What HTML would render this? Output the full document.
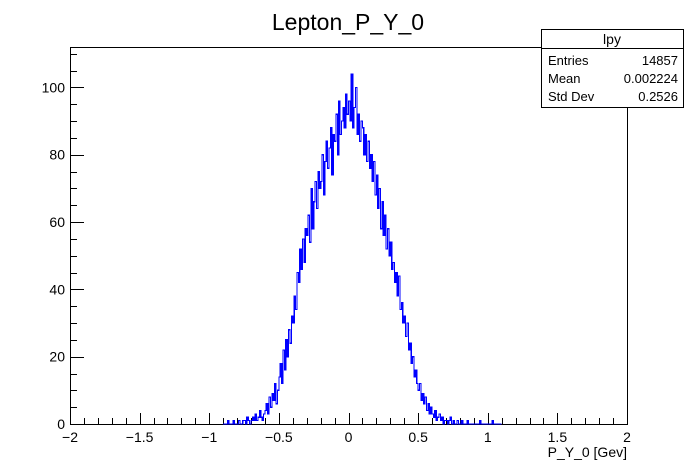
<!DOCTYPE html>
<html><head><meta charset="utf-8"><style>
body{margin:0;background:#fff;}
svg{display:block;font-family:"Liberation Sans",sans-serif;}
</style></head><body>
<svg id="c" width="696" height="472">
<text x="348" y="30" font-size="23" text-anchor="middle">Lepton_P_Y_0</text>
<rect x="70.5" y="47.5" width="557" height="377" fill="none" stroke="#000" stroke-width="1"/>
<g id="ticks" shape-rendering="crispEdges"></g>
<path id="hist" fill="none" stroke="#0000ff" stroke-width="1.2" shape-rendering="crispEdges"/>
<text x="627" y="457" font-size="14" text-anchor="end">P_Y_0 [Gev]</text>
<g>
<rect x="541.5" y="29.5" width="142" height="78" fill="#fff" stroke="#000"/>
<line x1="541.5" y1="48.5" x2="683.5" y2="48.5" stroke="#000"/>
<text x="612" y="44" font-size="14" text-anchor="middle">lpy</text>
<text x="548" y="65" font-size="13">Entries</text>
<text x="678" y="65" font-size="13" text-anchor="end">14857</text>
<text x="548" y="83" font-size="13">Mean</text>
<text x="678" y="83" font-size="13" text-anchor="end">0.002224</text>
<text x="548" y="101" font-size="13">Std Dev</text>
<text x="678" y="101" font-size="13" text-anchor="end">0.2526</text>
</g>
</svg>
<script>
const binStart = -0.9;
const binWidth = 0.01;
const counts = [
0,0,0,1,0,0,0,1,0,0,
0,1,0,0,1,1,0,2,1,0,
1,2,1,3,1,2,4,2,1,3,
4,6,3,8,5,9,7,12,6,10,
14,18,12,22,16,25,20,28,24,32,
30,38,34,45,42,52,46,55,48,58,
56,62,54,70,58,66,72,64,75,70,
72,80,68,78,84,76,82,88,74,86,
84,92,80,96,86,90,94,88,98,92,
96,90,104,88,94,100,86,92,84,90,
88,80,86,78,84,76,80,72,78,68,
74,64,70,58,66,56,62,52,58,50,
54,46,48,42,45,38,44,34,36,30,
32,26,30,22,24,18,20,14,16,12,
10,12,7,9,6,8,4,6,3,5,
3,2,4,1,2,3,1,2,0,1,
1,0,1,2,0,1,0,0,1,0,
0,1,0,0,0,1,0,0,0,0,
0,0,0,0,1,0,0,0,0,0,
0,0,0,1,0,0,0,0,0,0];
const xTicks = [-2,-1.5,-1,-0.5,0,0.5,1,1.5,2];
const xTickLabels = ["\u22122","\u22121.5","\u22121","\u22120.5","0","0.5","1","1.5","2"];
const yTicks = [0,20,40,60,80,100];
const yTickLabels = ["0","20","40","60","80","100"];

const X0=70,X1=627,Y0=424,Y1=47,xmin=-2,xmax=2,ymin=0,ymax=112;
const xs=v=>X0+(v-xmin)/(xmax-xmin)*(X1-X0);
const ys=v=>Y0-(v-ymin)/(ymax-ymin)*(Y0-Y1);
const NS="http://www.w3.org/2000/svg";
const g=document.getElementById('ticks');
function ln(x1,y1,x2,y2){const l=document.createElementNS(NS,'line');l.setAttribute('x1',x1);l.setAttribute('y1',y1);l.setAttribute('x2',x2);l.setAttribute('y2',y2);l.setAttribute('stroke','#000');g.appendChild(l);return l;}
function tx(x,y,s,a){const t=document.createElementNS(NS,'text');t.setAttribute('x',x);t.setAttribute('y',y);t.setAttribute('font-size','14');t.setAttribute('text-anchor',a);t.textContent=s;g.appendChild(t);return t;}
for(let v=-2;v<=2.0001;v+=0.1){const x=Math.round(xs(v))+0.5;const maj=Math.abs(v*2-Math.round(v*2))<1e-6;ln(x,Y0,x,Y0-(maj?11:6));}
xTicks.forEach((v,i)=>{const t=tx(xs(v),442,xTickLabels[i],'middle');

});
for(let v=0;v<=112;v+=5){const y=Math.round(ys(v))+0.5;const maj=v%20===0;ln(X0,y,X0+(maj?14:7),y);}
yTicks.forEach((v,i)=>{const t=tx(65,ys(v)+5,yTickLabels[i],'end');

});
let d='M'+xs(binStart)+','+ys(0);
counts.forEach((c,i)=>{const xa=xs(binStart+i*binWidth),xb=xs(binStart+(i+1)*binWidth);d+=' L'+xa+','+ys(c)+' L'+xb+','+ys(c);});
d+=' L'+xs(binStart+counts.length*binWidth)+','+ys(0);
document.getElementById('hist').setAttribute('d',d);
</script>
</body></html>
